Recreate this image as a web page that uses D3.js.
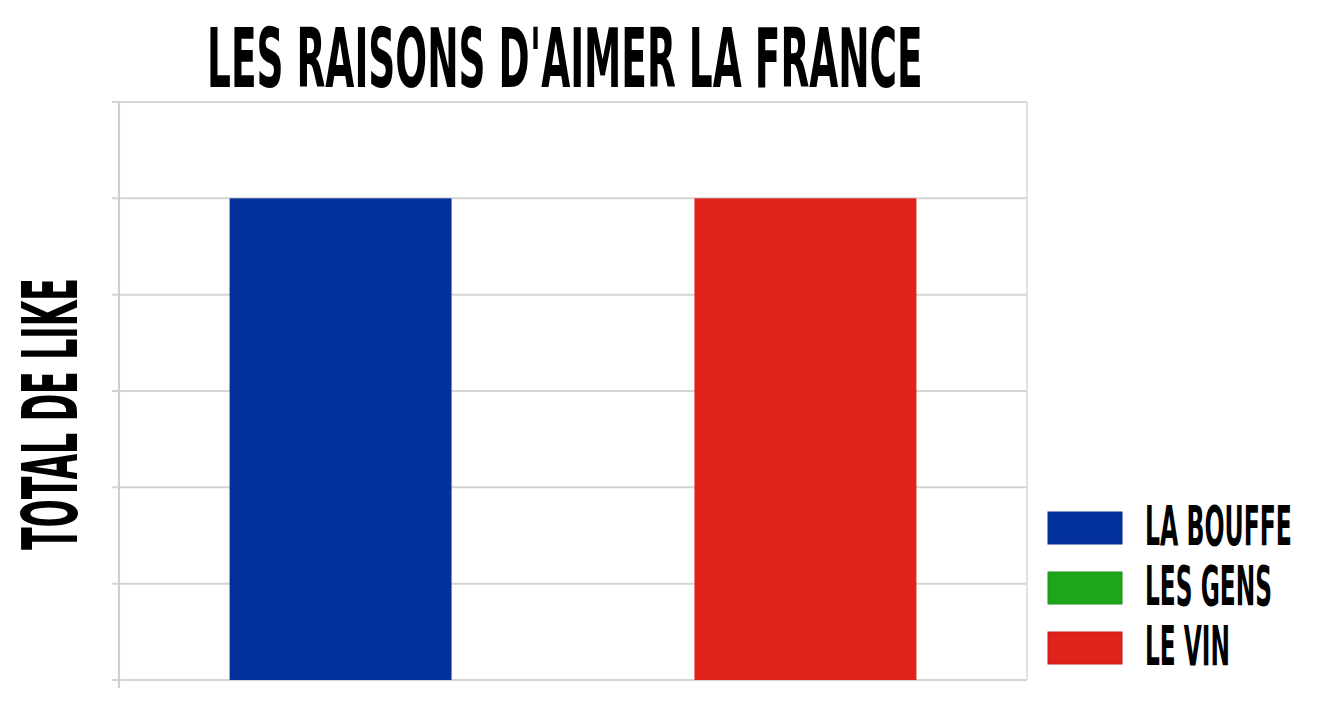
<!DOCTYPE html>
<html><head><meta charset="utf-8">
<script src="https://cdn.jsdelivr.net/npm/d3@7"></script>
<style>
html,body{margin:0;padding:0;background:#fff;}
svg{display:block;}
text{font-family:"DejaVu Sans Condensed","Liberation Sans Narrow","Liberation Sans",sans-serif;font-weight:bold;fill:#000;}
</style></head>
<body><svg id="chart" width="1340" height="704"></svg>
<script>
const title = "LES RAISONS D'AIMER LA FRANCE";
const yLabel = "TOTAL DE LIKE";
const groups = [""];
const seriesNames = ["LA BOUFFE", "LES GENS", "LE VIN"];
const seriesValues = [5, 0, 5];
const seriesColors = ["#02319c", "#1ea51a", "#e0231a"];
const yTicks = [0, 1, 2, 3, 4, 5, 6];

const svg = d3.select("#chart");
const plotLeft = 119, plotRight = 1027, plotTop = 102, plotBottom = 680;

const y = d3.scaleLinear().domain([0, 6]).range([plotBottom, plotTop]);
const x0 = d3.scaleBand().domain(groups).range([plotLeft, plotRight]).paddingInner(0).paddingOuter(0.161);
const x1 = d3.scaleBand().domain(seriesNames).range([0, x0.bandwidth()]).paddingInner(0.045).paddingOuter(0);

// gridlines
svg.append("g").selectAll("line").data(yTicks).join("line")
  .attr("x1", plotLeft - 7).attr("x2", plotRight)
  .attr("y1", d => y(d)).attr("y2", d => y(d))
  .attr("stroke", "#d4d4d4").attr("stroke-width", 2);

// left axis line
svg.append("line").attr("x1", plotLeft).attr("x2", plotLeft).attr("y1", plotTop).attr("y2", plotBottom + 8)
  .attr("stroke", "#cfcfcf").attr("stroke-width", 2.2);
// right border
svg.append("line").attr("x1", plotRight).attr("x2", plotRight).attr("y1", plotTop).attr("y2", plotBottom)
  .attr("stroke", "#dadada").attr("stroke-width", 1.6);

// bars
const data = seriesNames.map((s, i) => ({s, v: seriesValues[i], c: seriesColors[i]}));
svg.append("g").selectAll("g").data(groups).join("g")
  .attr("transform", g => `translate(${x0(g)},0)`)
  .selectAll("rect").data(data).join("rect")
  .attr("x", d => x1(d.s)).attr("width", x1.bandwidth())
  .attr("y", d => y(d.v)).attr("height", d => y(0) - y(d.v))
  .attr("fill", d => d.c);

// helper: place text squeezed horizontally to a target width
function fitText(parent, str, size, targetW, tx, ty, rot) {
  const g = parent.append("g").attr("transform", `translate(${tx},${ty})` + (rot ? ` rotate(${rot})` : ""));
  const t = g.append("text").attr("font-size", size).text(str);
  const w = t.node().getComputedTextLength();
  t.attr("transform", `scale(${targetW / w},1)`);
  return t;
}

// title
fitText(svg, title, 82, 716, 207, 87, 0);
// y label
fitText(svg, yLabel, 76, 272, 77, 550, -90);

// legend
const legendWidths = [147, 127, 85];
const lg = svg.append("g").selectAll("g").data(data).join("g")
  .attr("transform", (d, i) => `translate(1048,${512 + i * 60})`);
lg.append("rect").attr("width", 74).attr("height", 32)
  .attr("fill", d => d.c).attr("stroke", d => d3.color(d.c).darker(0.4)).attr("stroke-width", 1);
lg.each(function(d, i) {
  fitText(d3.select(this), d.s, 55, legendWidths[i], 97, 33, 0);
});
</script></body></html>
